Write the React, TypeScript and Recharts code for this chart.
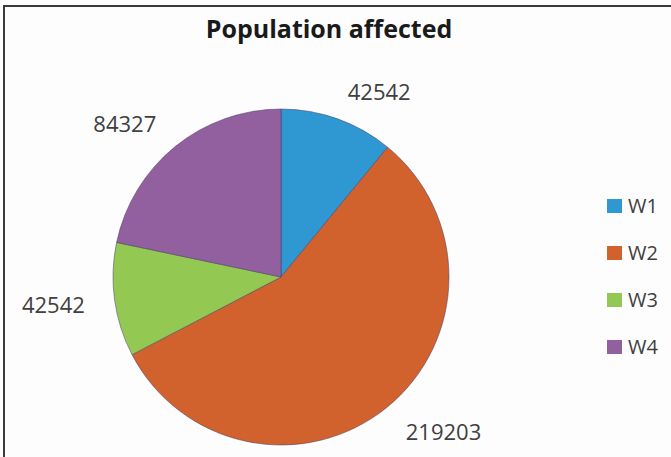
import React from "react";
import { PieChart, Pie, Cell, Legend } from "recharts";

const categories = ["W1", "W2", "W3", "W4"];
const values = [42542, 219203, 42542, 84327];
const colors = ["#2f97d1", "#d2622d", "#93c953", "#925f9f"];
const title = "Population affected";

const data = categories.map((name, i) => ({ name, value: values[i] }));

const RADIAN = Math.PI / 180;

const renderLabel = (props: any) => {
  const { cx, cy, midAngle, outerRadius, value } = props;
  const r = outerRadius + 30;
  const x = cx + r * Math.cos(-midAngle * RADIAN);
  const y = cy + r * Math.sin(-midAngle * RADIAN);
  const anchor = Math.cos(-midAngle * RADIAN) >= 0 ? "start" : "end";
  return (
    <text
      x={x}
      y={y}
      textAnchor={anchor}
      dominantBaseline="central"
      fill="#404040"
      fontSize={22}
      fontFamily="'Open Sans', sans-serif"
    >
      {value}
    </text>
  );
};

const renderLegend = (props: any) => {
  const { payload } = props;
  return (
    <div style={{ fontFamily: "'Open Sans', sans-serif" }}>
      {(payload || []).map((entry: any, i: number) => (
        <div
          key={i}
          style={{ display: "flex", alignItems: "center", height: 47 }}
        >
          <span
            style={{
              display: "inline-block",
              width: 15,
              height: 14,
              background: entry.color,
              marginRight: 6,
            }}
          />
          <span style={{ fontSize: 20, color: "#404040" }}>{entry.value}</span>
        </div>
      ))}
    </div>
  );
};

export default function App() {
  return (
    <div
      style={{
        position: "fixed",
        left: 0,
        top: 0,
        width: 671,
        height: 457,
        overflow: "hidden",
        background: "#fdfdfd",
      }}
    >
      <div
        style={{
          position: "absolute",
          left: 3,
          top: 5,
          width: 720,
          height: 520,
          border: "2px solid #3a3a3a",
          boxSizing: "border-box",
        }}
      />
      <div
        style={{
          position: "absolute",
          left: 0,
          top: 11,
          width: 658,
          textAlign: "center",
          fontFamily: "'Open Sans', sans-serif",
          fontWeight: 700,
          fontSize: 25,
          color: "#1a1a1a",
        }}
      >
        {title}
      </div>
      <div style={{ position: "absolute", left: 0, top: 0 }}>
        <PieChart
          width={671}
          height={457}
          margin={{ top: 0, right: 0, bottom: 0, left: 0 }}
        >
          <Pie
            data={data}
            dataKey="value"
            nameKey="name"
            cx={281}
            cy={277}
            outerRadius={168}
            startAngle={90}
            endAngle={-270}
            label={renderLabel}
            labelLine={false}
            isAnimationActive={false}
            stroke="rgba(70,60,100,0.5)"
            strokeWidth={1}
          >
            {data.map((d, i) => (
              <Cell key={d.name} fill={colors[i]} />
            ))}
          </Pie>
          <Legend
            layout="vertical"
            align="right"
            verticalAlign="top"
            content={renderLegend}
            wrapperStyle={{ left: 607, top: 182, width: 80 }}
          />
        </PieChart>
      </div>
    </div>
  );
}
